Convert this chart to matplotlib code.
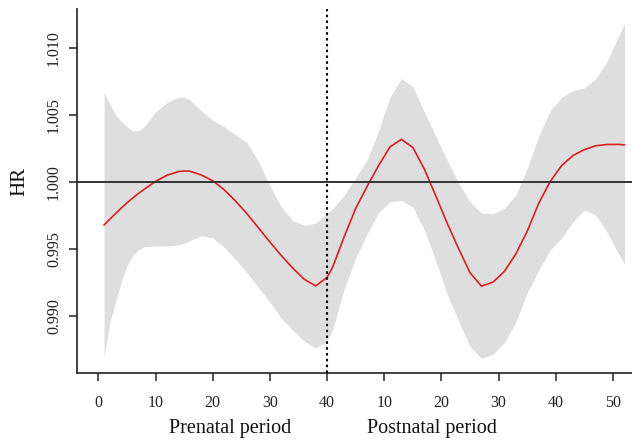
import matplotlib
matplotlib.use("Agg")
import matplotlib.pyplot as plt

# Combined time axis: prenatal weeks 1-40, postnatal weeks shifted by +40
weeks = [1, 2, 3, 4, 5, 6, 7, 8, 10, 12, 14, 15, 16, 18, 20, 22, 24, 26, 28, 30,
         32, 34, 36, 38, 40, 41, 43, 45, 47, 49, 51, 53, 55, 57, 59, 61, 63, 65,
         67, 69, 71, 73, 75, 77, 79, 81, 83, 85, 87, 89, 91, 92]

hr = [0.99677, 0.99720, 0.99762, 0.99803, 0.99842, 0.99878, 0.99912, 0.99943,
      1.00002, 1.00048, 1.00075, 1.00080, 1.00078, 1.00050, 1.00007, 0.99940,
      0.99855, 0.99760, 0.99655, 0.99550, 0.99448, 0.99355, 0.99272, 0.99222,
      0.99285, 0.99365, 0.99590, 0.99800, 0.99965, 1.00120, 1.00260, 1.00316,
      1.00255, 1.00095, 0.99895, 0.99690, 0.99500, 0.99320, 0.99220, 0.99250,
      0.99330, 0.99460, 0.99630, 0.99838, 1.00000, 1.00120, 1.00195, 1.00240,
      1.00268, 1.00278, 1.00278, 1.00275]

upper = [1.0066, 1.0058, 1.0050, 1.0045, 1.0041, 1.0038, 1.0038, 1.0041,
         1.0052, 1.0059, 1.0063, 1.0063, 1.0061, 1.0053, 1.0046, 1.0041,
         1.0035, 1.0029, 1.0015, 0.9997, 0.9981, 0.9971, 0.99675, 0.9969,
         0.99764, 0.9980, 0.9990, 1.0003, 1.0016, 1.0038, 1.0063, 1.0077,
         1.0071, 1.0052, 1.0034, 1.0016, 0.9999, 0.9985, 0.99765, 0.9976,
         0.9980, 0.9990, 1.0010, 1.0034, 1.0053, 1.0063, 1.0068, 1.0070,
         1.0077, 1.0090, 1.0109, 1.0118]

lower = [0.98694, 0.9895, 0.9910, 0.9925, 0.9937, 0.9945, 0.9949, 0.99515,
         0.9952, 0.9952, 0.99528, 0.9954, 0.9956, 0.99595, 0.9958, 0.9951,
         0.9942, 0.9932, 0.9921, 0.9910, 0.9898, 0.9889, 0.9881, 0.98757,
         0.98810, 0.9890, 0.9920, 0.9943, 0.9961, 0.9977, 0.9985, 0.9986,
         0.9981, 0.9964, 0.9941, 0.9916, 0.9896, 0.9877, 0.98682, 0.9871,
         0.9880, 0.9895, 0.9917, 0.9934, 0.9949, 0.9958, 0.9970, 0.9979,
         0.9975, 0.9962, 0.9946, 0.9939]

xtick_pos = [0, 10, 20, 30, 40, 50, 60, 70, 80, 90]
xtick_labels = ["0", "10", "20", "30", "40", "10", "20", "30", "40", "50"]
ytick_pos = [0.990, 0.995, 1.000, 1.005, 1.010]
ytick_labels = ["0.990", "0.995", "1.000", "1.005", "1.010"]

plt.rcParams['font.family'] = ['Liberation Serif', 'DejaVu Serif']

W, H = 632, 441
fig = plt.figure(figsize=(W / 100, H / 100), dpi=100)
left_px, right_px, top_px, bot_px = 77.3, 645.5, 9.3, 373.0
ax = fig.add_axes([left_px / W, 1 - bot_px / H,
                   (right_px - left_px) / W, (bot_px - top_px) / H])

ax.fill_between(weeks, lower, upper, color='#dedede', linewidth=0, zorder=1)
ax.plot(weeks, hr, color='#dc2020', linewidth=1.2, zorder=3)
ax.axhline(1.0, color='#333333', linewidth=1.4, zorder=4)
ax.axvline(40, color='black', linewidth=1.5, linestyle=(0, (1.2, 1.6)), zorder=4)

ax.set_xlim(-3.68, 95.68)
ax.set_ylim(0.98572, 1.012866)

ax.spines['top'].set_visible(False)
ax.spines['right'].set_visible(False)
for s in ('left', 'bottom'):
    ax.spines[s].set_linewidth(1.2)
    ax.spines[s].set_color('#222222')

ax.set_xticks(xtick_pos)
ax.set_xticklabels(xtick_labels)
ax.set_yticks(ytick_pos)
ax.set_yticklabels(ytick_labels, rotation=90, va='center')
ax.tick_params(axis='both', length=6, width=1.1, color='#222222',
               labelsize=11.5, labelcolor='#222222')
ax.tick_params(axis='x', pad=10)
ax.tick_params(axis='y', pad=5)

fig.text(20 / W, 1 - 182 / H, 'HR', rotation=90, fontsize=15,
         ha='center', va='center', color='#111111')
fig.text(230 / W, 1 - 429 / H, 'Prenatal period', fontsize=14.5,
         ha='center', va='center', color='#111111')
fig.text(432 / W, 1 - 429 / H, 'Postnatal period', fontsize=14.5,
         ha='center', va='center', color='#111111')

fig.savefig('out.png', dpi=100)
